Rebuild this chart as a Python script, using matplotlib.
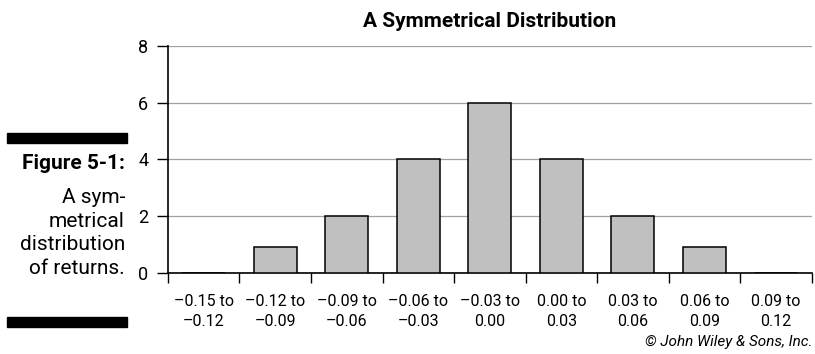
import matplotlib
matplotlib.use("Agg")
import matplotlib.pyplot as plt
from matplotlib.patches import Rectangle
import numpy as np

plt.rcParams["font.family"] = ["Liberation Sans Narrow", "Roboto", "DejaVu Sans"]

# return buckets and how many periods fell in each
bins = ["–0.15 to\n–0.12", "–0.12 to\n–0.09", "–0.09 to\n–0.06",
        "–0.06 to\n–0.03", "–0.03 to\n0.00", "0.00 to\n0.03",
        "0.03 to\n0.06", "0.06 to\n0.09", "0.09 to\n0.12"]
counts = [0, 0.9, 2, 4, 6, 4, 2, 0.9, 0]
yticks = [0, 2, 4, 6, 8]

fig = plt.figure(figsize=(8.15, 3.54), dpi=100)
ax = fig.add_axes([0.206, 0.229, 0.790, 0.641])

x = np.arange(len(bins))
ax.bar(x, counts, width=0.6, color="#c0c0c0", edgecolor="black", lw=1.1,
       zorder=3)
ax.set_xlim(-0.5, len(bins) - 0.5)
ax.set_ylim(0, 8)
ax.set_yticks(yticks)
ax.set_yticklabels([str(v) for v in yticks], fontsize=13)
ax.yaxis.grid(True, color="#a0a0a0", lw=0.9)
ax.set_axisbelow(True)

# ticks sit on the bucket boundaries, labels in the middle
ax.set_xticks(np.arange(len(bins) + 1) - 0.5)
ax.set_xticklabels([])
ax.set_xticks(x, minor=True)
ax.set_xticklabels(bins, minor=True, fontsize=11.5, linespacing=1.45)
ax.tick_params(axis="x", which="major", length=7, width=1, direction="out")
ax.tick_params(axis="x", which="minor", length=0, pad=15)
ax.tick_params(axis="y", length=8, width=1, direction="out", pad=6)

for side in ("top", "right"):
    ax.spines[side].set_visible(False)
for side in ("left", "bottom"):
    ax.spines[side].set_linewidth(1.2)

ax.set_title("A Symmetrical Distribution", fontsize=15, fontweight="bold",
             pad=14)

# sidebar caption
fig.patches.append(Rectangle((7 / 815, 1 - 143 / 354), 120 / 815, 10 / 354,
                             transform=fig.transFigure, color="black"))
fig.patches.append(Rectangle((7 / 815, 1 - 327 / 354), 120 / 815, 10 / 354,
                             transform=fig.transFigure, color="black"))
fig.text(125 / 815, 1 - 164 / 354, "Figure 5-1:", ha="right", va="center",
         fontsize=15, fontweight="bold")
fig.text(125 / 815, 1 - 233 / 354,
         "A sym-\nmetrical\ndistribution\nof returns.", ha="right",
         va="center", fontsize=15, linespacing=1.33)

fig.text(812 / 815, 1 - 342 / 354, "© John Wiley & Sons, Inc.", ha="right",
         va="center", fontsize=11, style="italic")

fig.savefig("out.png", dpi=100)
